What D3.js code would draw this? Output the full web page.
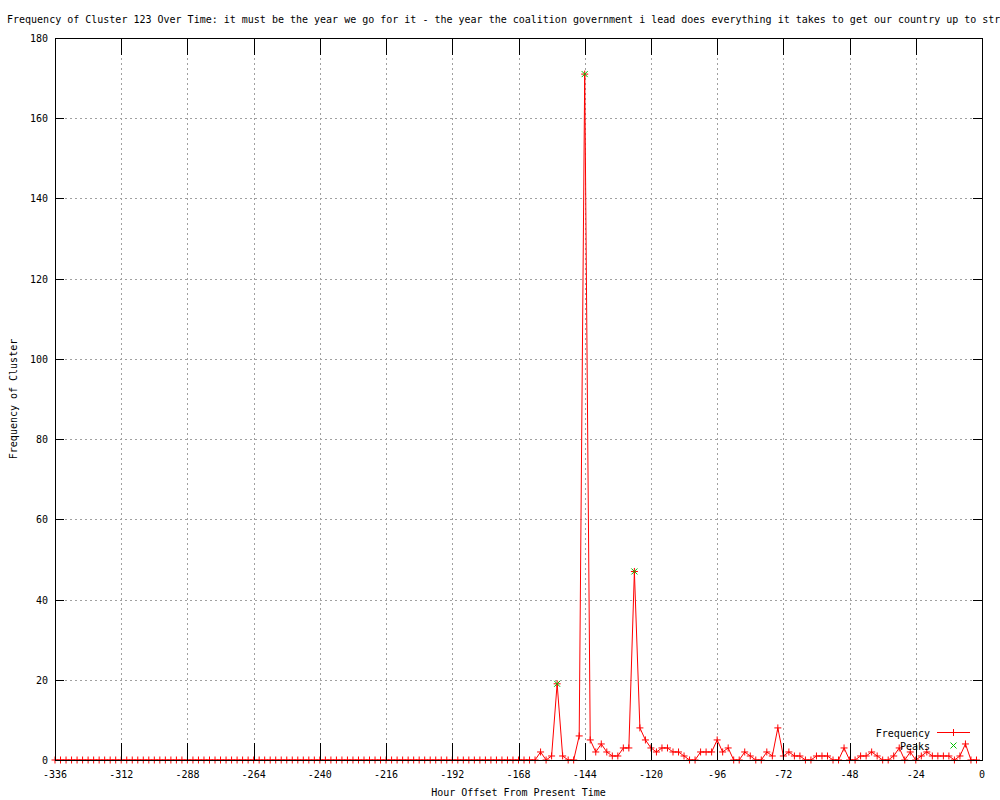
<!DOCTYPE html>
<html>
<head>
<meta charset="utf-8">
<script src="https://cdn.jsdelivr.net/npm/d3@7"></script>
<style>
  html, body { margin: 0; padding: 0; background: #fff; }
  svg { display: block; }
  text { font-family: "DejaVu Sans Mono", "Liberation Mono", monospace; font-size: 10px; fill: #000; }
</style>
</head>
<body>
<svg id="chart" width="1000" height="800"></svg>
<script>
// ---- data ----
const titleText = "Frequency of Cluster 123 Over Time: it must be the year we go for it - the year the coalition government i lead does everything it takes to get our country up to stre";
const xLabel = "Hour Offset From Present Time";
const yLabel = "Frequency of Cluster";
const xTicks = [-336, -312, -288, -264, -240, -216, -192, -168, -144, -120, -96, -72, -48, -24, 0];
const yTicks = [0, 20, 40, 60, 80, 100, 120, 140, 160, 180];
const hours = d3.range(-336, 0, 2);
const frequency = [
  0,0,0,0,0,0,0,0,0,0, 0,0,0,0,0,0,0,0,0,0,
  0,0,0,0,0,0,0,0,0,0, 0,0,0,0,0,0,0,0,0,0,
  0,0,0,0,0,0,0,0,0,0, 0,0,0,0,0,0,0,0,0,0,
  0,0,0,0,0,0,0,0,0,0, 0,0,0,0,0,0,0,0,0,0,
  0,0,0,0,0,0,0,0,
  // -160 .. -2
  2,0,1,19,1,0,0,6,171,5,
  2,4,2,1,1,3,3,47,8,5,
  3,2,3,3,2,2,1,0,0,2,
  2,2,5,2,3,0,0,2,1,0,
  0,2,1,8,1,2,1,1,0,0,
  1,1,1,0,0,3,0,0,1,1,
  2,1,0,0,1,3,0,2,0,1,
  2,1,1,1,1,0,1,4,0,0
];
const peakHours = [-154, -144, -126];
const peakValues = [19, 171, 47];

// ---- layout ----
const L = 55, R = 982, T = 38, B = 760;
const svg = d3.select("#chart");
const x = d3.scaleLinear().domain([-336, 0]).range([L, R]);
const y = d3.scaleLinear().domain([0, 180]).range([B, T]);

// grid
const grid = svg.append("g");
grid.selectAll("line.gx").data(xTicks.filter(d => d > -336 && d < 0)).enter().append("line")
  .attr("x1", d => Math.round(x(d)) + 0.5).attr("x2", d => Math.round(x(d)) + 0.5).attr("y1", T).attr("y2", B)
  .attr("stroke", "#a0a0a0").attr("stroke-width", 1).attr("stroke-dasharray", "2,3");
grid.selectAll("line.gy").data(yTicks.filter(d => d > 0 && d < 180)).enter().append("line")
  .attr("y1", d => Math.round(y(d)) + 0.5).attr("y2", d => Math.round(y(d)) + 0.5).attr("x1", L).attr("x2", R)
  .attr("stroke", "#a0a0a0").attr("stroke-width", 1).attr("stroke-dasharray", "2,3");

// data line
const pts = hours.map((h, i) => [h, frequency[i]]);
svg.append("path").datum(pts)
  .attr("fill", "none").attr("stroke", "#ff0000").attr("stroke-width", 1)
  .attr("d", d3.line().x(d => x(d[0])).y(d => y(d[1])));

const plus = (g, cx, cy, s, col) => {
  g.append("line").attr("x1", cx - s).attr("x2", cx + s).attr("y1", cy).attr("y2", cy).attr("stroke", col);
  g.append("line").attr("x1", cx).attr("x2", cx).attr("y1", cy - s).attr("y2", cy + s).attr("stroke", col);
};
const cross = (g, cx, cy, s, col) => {
  g.append("line").attr("x1", cx - s).attr("x2", cx + s).attr("y1", cy - s).attr("y2", cy + s).attr("stroke", col);
  g.append("line").attr("x1", cx - s).attr("x2", cx + s).attr("y1", cy + s).attr("y2", cy - s).attr("stroke", col);
};
const markers = svg.append("g");
pts.forEach(d => plus(markers, x(d[0]), y(d[1]), 3.5, "#ff0000"));
const peakG = svg.append("g");
peakHours.forEach((h, i) => cross(peakG, x(h), y(peakValues[i]), 3, "#00c000"));

// border
svg.append("rect").attr("x", L + 0.5).attr("y", T + 0.5).attr("width", R - L).attr("height", B - T)
  .attr("fill", "none").attr("stroke", "#000").attr("stroke-width", 1);

// ticks (inward, mirrored)
const tk = svg.append("g").attr("stroke", "#000").attr("stroke-width", 1);
xTicks.forEach(d => {
  const px = Math.round(x(d)) + 0.5;
  tk.append("line").attr("x1", px).attr("x2", px).attr("y1", B).attr("y2", B - 17);
  tk.append("line").attr("x1", px).attr("x2", px).attr("y1", T).attr("y2", T + 17);
});
yTicks.forEach(d => {
  const py = Math.round(y(d)) + 0.5;
  tk.append("line").attr("x1", L).attr("x2", L + 9).attr("y1", py).attr("y2", py);
  tk.append("line").attr("x1", R).attr("x2", R - 9).attr("y1", py).attr("y2", py);
});

// tick labels
svg.append("g").selectAll("text").data(xTicks).enter().append("text")
  .attr("x", d => x(d)).attr("y", 778).attr("text-anchor", "middle").text(d => String(d));
svg.append("g").selectAll("text").data(yTicks).enter().append("text")
  .attr("x", 48).attr("y", d => y(d) + 4).attr("text-anchor", "end").text(d => String(d));

// titles
svg.append("text").attr("x", 7).attr("y", 23).text(titleText);
svg.append("text").attr("x", (L + R) / 2).attr("y", 796).attr("text-anchor", "middle").text(xLabel);
svg.append("text").attr("transform", "translate(17," + ((T + B) / 2) + ") rotate(-90)")
  .attr("text-anchor", "middle").text(yLabel);

// legend
const lg = svg.append("g");
lg.append("text").attr("x", 930).attr("y", 737).attr("text-anchor", "end").text("Frequency");
lg.append("line").attr("x1", 937).attr("x2", 970).attr("y1", 732.5).attr("y2", 732.5).attr("stroke", "#ff0000");
plus(lg, 953.5, 732.5, 3.5, "#ff0000");
lg.append("text").attr("x", 930).attr("y", 750).attr("text-anchor", "end").text("Peaks");
cross(lg, 953.5, 745.5, 3, "#00c000");
</script>
</body>
</html>
